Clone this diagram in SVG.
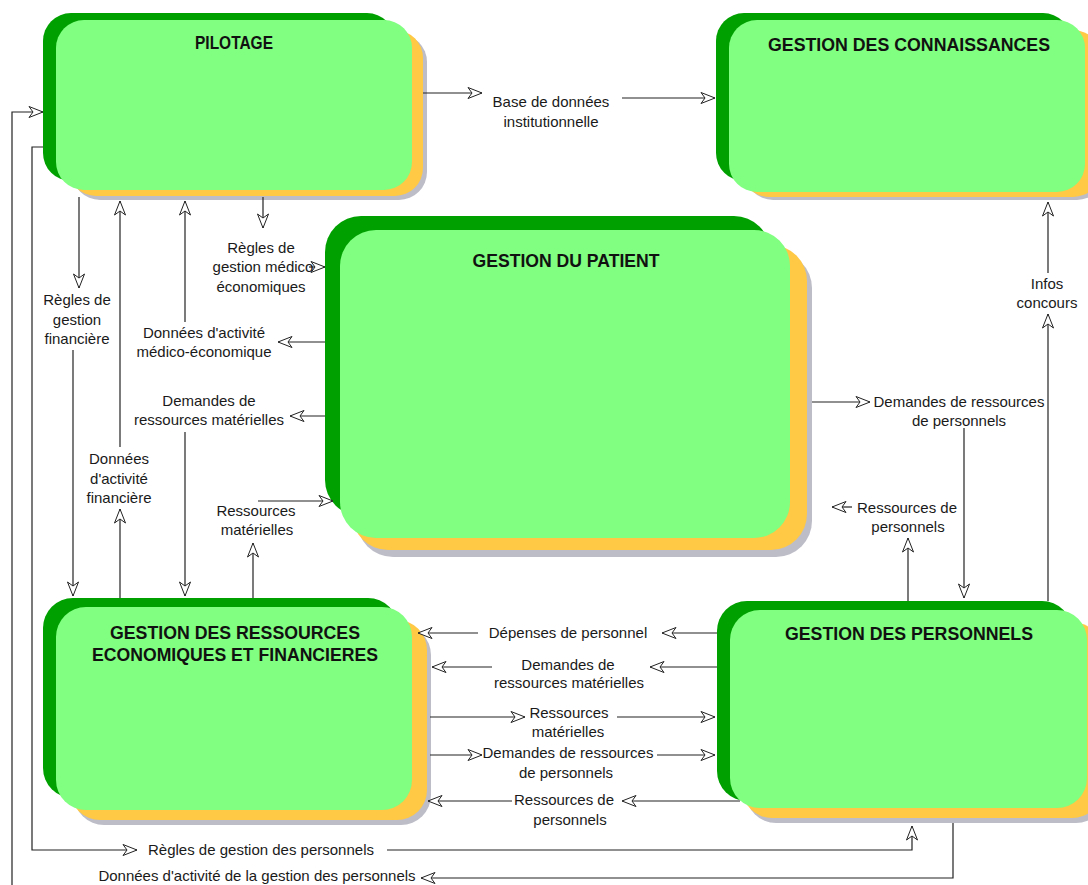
<svg xmlns="http://www.w3.org/2000/svg" width="1088" height="885" viewBox="0 0 1088 885">
<style>
.dk{fill:#00A000}
.lt{fill:#80FF80}
.yl{fill:#FFC845}
.sh{fill:#BDBDC8}
.t{font-family:"Liberation Sans",Arial,sans-serif;font-weight:bold;font-size:18px;fill:#111;text-anchor:middle}
.l{font-family:"Liberation Sans",Arial,sans-serif;font-size:15px;fill:#1a1a1a;text-anchor:middle}
.c{fill:none;stroke:#222;stroke-width:1.2}
.c.a{marker-end:url(#a)}
</style>
<defs>
<marker id="a" viewBox="0 0 16 14" refX="15" refY="7" markerWidth="16" markerHeight="14" markerUnits="userSpaceOnUse" orient="auto">
<path d="M1,1.5 L15,7 L1,12.5 L5,7 Z" fill="#fff" stroke="#222" stroke-width="1"/>
</marker>
</defs>
<rect width="1088" height="885" fill="#fff"/>

<g id="pilotage">
<rect class="sh" x="72" y="34" width="355" height="166" rx="28"/>
<rect class="yl" x="68" y="30" width="355" height="166" rx="28"/>
<rect class="dk" x="43" y="13" width="352" height="168" rx="28"/>
<rect class="lt" x="56" y="20" width="356" height="170" rx="28"/>
<text class="t" x="234" y="49" textLength="78" lengthAdjust="spacingAndGlyphs">PILOTAGE</text>
</g>

<g id="connaissances">
<rect class="sh" x="745" y="34" width="360" height="166" rx="28"/>
<rect class="yl" x="741" y="30" width="360" height="167" rx="28"/>
<rect class="dk" x="716" y="13" width="355" height="168" rx="28"/>
<rect class="lt" x="729" y="20" width="356" height="172" rx="28"/>
<text class="t" x="909" y="51" textLength="282" lengthAdjust="spacingAndGlyphs">GESTION DES CONNAISSANCES</text>
</g>

<g id="patient">
<rect class="sh" x="357" y="252" width="455" height="305" rx="36"/>
<rect class="yl" x="352" y="245" width="455" height="305" rx="36"/>
<rect class="dk" x="325" y="216" width="445" height="300" rx="36"/>
<rect class="lt" x="340" y="230" width="450" height="308" rx="36"/>
<text class="t" x="566" y="267" textLength="187" lengthAdjust="spacingAndGlyphs">GESTION DU PATIENT</text>
</g>

<g id="ressources">
<rect class="sh" x="74" y="625" width="357" height="200" rx="30"/>
<rect class="yl" x="70" y="620" width="357" height="200" rx="30"/>
<rect class="dk" x="43" y="598" width="355" height="200" rx="30"/>
<rect class="lt" x="56" y="607" width="356" height="203" rx="30"/>
<text class="t" x="235" y="639" textLength="250" lengthAdjust="spacingAndGlyphs">GESTION DES RESSOURCES</text>
<text class="t" x="235" y="661" textLength="286" lengthAdjust="spacingAndGlyphs">ECONOMIQUES ET FINANCIERES</text>
</g>

<g id="personnels">
<rect class="sh" x="746" y="627" width="360" height="196" rx="30"/>
<rect class="yl" x="742" y="622" width="360" height="196" rx="30"/>
<rect class="dk" x="717" y="601" width="355" height="200" rx="30"/>
<rect class="lt" x="730" y="610" width="357" height="198" rx="30"/>
<text class="t" x="909" y="640" textLength="248" lengthAdjust="spacingAndGlyphs">GESTION DES PERSONNELS</text>
</g>

<g id="connectors">
<path class="c a" d="M423,93 H482"/>
<path class="c a" d="M622,98 H715"/>
<path class="c a" d="M12,886 V112 H43"/>
<path class="c a" d="M953,823 V878 H421"/>
<path class="c a" d="M43,147 H32 V850 H137"/>
<path class="c a" d="M387,850 H912 V826"/>
<path class="c a" d="M79,197 V288"/>
<path class="c a" d="M73,350 V596"/>
<path class="c a" d="M120,598 V509"/>
<path class="c a" d="M120,447 V201"/>
<path class="c a" d="M325,342 H278"/>
<path class="c a" d="M185,322 V201"/>
<path class="c a" d="M263,197 V228"/>
<path class="c a" d="M309,267 H325"/>
<path class="c a" d="M325,416 H290"/>
<path class="c a" d="M185,432 V596"/>
<path class="c a" d="M253,598 V543"/>
<path class="c a" d="M258,501 H333"/>
<path class="c a" d="M812,402 H870"/>
<path class="c a" d="M964,428 V598"/>
<path class="c a" d="M908,601 V538"/>
<path class="c a" d="M852,507 H832"/>
<path class="c a" d="M1048,601 V314"/>
<path class="c a" d="M1048,273 V202"/>
<path class="c a" d="M717,633 H662"/>
<path class="c a" d="M478,633 H418"/>
<path class="c a" d="M717,667 H650"/>
<path class="c a" d="M492,667 H432"/>
<path class="c a" d="M430,717 H525"/>
<path class="c a" d="M617,717 H715"/>
<path class="c a" d="M430,755 H482"/>
<path class="c a" d="M657,755 H715"/>
<path class="c a" d="M740,801 H622"/>
<path class="c a" d="M512,801 H428"/>
</g>

<g id="labels">
<text class="l" x="551" y="107">Base de données</text>
<text class="l" x="551" y="127">institutionnelle</text>
<text class="l" x="77" y="305">Règles de</text>
<text class="l" x="77" y="325">gestion</text>
<text class="l" x="77" y="344">financière</text>
<text class="l" x="119" y="464">Données</text>
<text class="l" x="119" y="484">d'activité</text>
<text class="l" x="119" y="503">financière</text>
<text class="l" x="261" y="253">Règles de</text>
<text class="l" x="263" y="272">gestion médico</text>
<text class="l" x="261" y="292">économiques</text>
<text class="l" x="204" y="338">Données d'activité</text>
<text class="l" x="204" y="357">médico-économique</text>
<text class="l" x="209" y="406">Demandes de</text>
<text class="l" x="209" y="425">ressources matérielles</text>
<text class="l" x="256" y="516">Ressources</text>
<text class="l" x="257" y="535">matérielles</text>
<text class="l" x="959" y="407">Demandes de ressources</text>
<text class="l" x="959" y="426">de personnels</text>
<text class="l" x="907" y="513">Ressources de</text>
<text class="l" x="908" y="532">personnels</text>
<text class="l" x="1047" y="289">Infos</text>
<text class="l" x="1047" y="308">concours</text>
<text class="l" x="568" y="638">Dépenses de personnel</text>
<text class="l" x="568" y="670">Demandes de</text>
<text class="l" x="569" y="688">ressources matérielles</text>
<text class="l" x="569" y="718">Ressources</text>
<text class="l" x="568" y="737">matérielles</text>
<text class="l" x="568" y="758">Demandes de ressources</text>
<text class="l" x="566" y="778">de personnels</text>
<text class="l" x="564" y="805">Ressources de</text>
<text class="l" x="570" y="825">personnels</text>
<text class="l" x="261" y="855">Règles de gestion des personnels</text>
<text class="l" x="257" y="881">Données d'activité de la gestion des personnels</text>
</g>
</svg>
